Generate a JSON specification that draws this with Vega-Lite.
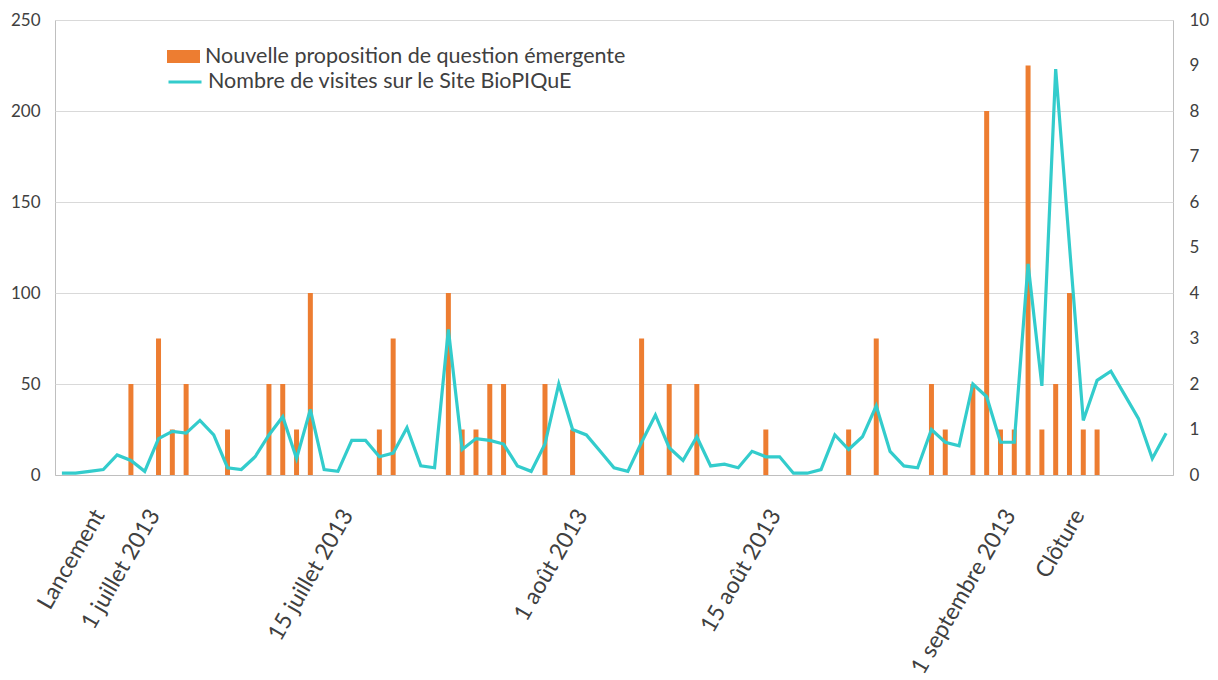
{
  "$schema": "https://vega.github.io/schema/vega-lite/v6.json",
  "autosize": {"type": "none"},
  "padding": {"left": 55, "top": 20, "right": 45, "bottom": 205},
  "width": 1118,
  "height": 455,
  "background": "white",
  "config": {
    "view": {"stroke": "#BFBFBF", "strokeWidth": 1},
    "font": "Lato",
    "axis": {"labelFont": "Lato", "labelColor": "#404040", "titleFont": "Lato"},
    "legend": {"labelFont": "Lato", "labelColor": "#404040"}
  },
  "data": {
    "values": [
      {"i": 0, "visites": 1, "questions": 0},
      {"i": 1, "visites": 1, "questions": 0},
      {"i": 2, "visites": 2, "questions": 0},
      {"i": 3, "visites": 3, "questions": 0},
      {"i": 4, "visites": 11, "questions": 0},
      {"i": 5, "visites": 8, "questions": 2},
      {"i": 6, "visites": 2, "questions": 0},
      {"i": 7, "visites": 20, "questions": 3},
      {"i": 8, "visites": 24, "questions": 1},
      {"i": 9, "visites": 23, "questions": 2},
      {"i": 10, "visites": 30, "questions": 0},
      {"i": 11, "visites": 22, "questions": 0},
      {"i": 12, "visites": 4, "questions": 1},
      {"i": 13, "visites": 3, "questions": 0},
      {"i": 14, "visites": 10, "questions": 0},
      {"i": 15, "visites": 22, "questions": 2},
      {"i": 16, "visites": 32, "questions": 2},
      {"i": 17, "visites": 9, "questions": 1},
      {"i": 18, "visites": 36, "questions": 4},
      {"i": 19, "visites": 3, "questions": 0},
      {"i": 20, "visites": 2, "questions": 0},
      {"i": 21, "visites": 19, "questions": 0},
      {"i": 22, "visites": 19, "questions": 0},
      {"i": 23, "visites": 10, "questions": 1},
      {"i": 24, "visites": 12, "questions": 3},
      {"i": 25, "visites": 26, "questions": 0},
      {"i": 26, "visites": 5, "questions": 0},
      {"i": 27, "visites": 4, "questions": 0},
      {"i": 28, "visites": 80, "questions": 4},
      {"i": 29, "visites": 14, "questions": 1},
      {"i": 30, "visites": 20, "questions": 1},
      {"i": 31, "visites": 19, "questions": 2},
      {"i": 32, "visites": 17, "questions": 2},
      {"i": 33, "visites": 5, "questions": 0},
      {"i": 34, "visites": 2, "questions": 0},
      {"i": 35, "visites": 17, "questions": 2},
      {"i": 36, "visites": 50, "questions": 0},
      {"i": 37, "visites": 25, "questions": 1},
      {"i": 38, "visites": 22, "questions": 0},
      {"i": 39, "visites": 13, "questions": 0},
      {"i": 40, "visites": 4, "questions": 0},
      {"i": 41, "visites": 2, "questions": 0},
      {"i": 42, "visites": 18, "questions": 3},
      {"i": 43, "visites": 33, "questions": 0},
      {"i": 44, "visites": 15, "questions": 2},
      {"i": 45, "visites": 8, "questions": 0},
      {"i": 46, "visites": 21, "questions": 2},
      {"i": 47, "visites": 5, "questions": 0},
      {"i": 48, "visites": 6, "questions": 0},
      {"i": 49, "visites": 4, "questions": 0},
      {"i": 50, "visites": 13, "questions": 0},
      {"i": 51, "visites": 10, "questions": 1},
      {"i": 52, "visites": 10, "questions": 0},
      {"i": 53, "visites": 1, "questions": 0},
      {"i": 54, "visites": 1, "questions": 0},
      {"i": 55, "visites": 3, "questions": 0},
      {"i": 56, "visites": 22, "questions": 0},
      {"i": 57, "visites": 14, "questions": 1},
      {"i": 58, "visites": 21, "questions": 0},
      {"i": 59, "visites": 38, "questions": 3},
      {"i": 60, "visites": 13, "questions": 0},
      {"i": 61, "visites": 5, "questions": 0},
      {"i": 62, "visites": 4, "questions": 0},
      {"i": 63, "visites": 25, "questions": 2},
      {"i": 64, "visites": 18, "questions": 1},
      {"i": 65, "visites": 16, "questions": 0},
      {"i": 66, "visites": 50, "questions": 2},
      {"i": 67, "visites": 43, "questions": 8},
      {"i": 68, "visites": 18, "questions": 1},
      {"i": 69, "visites": 18, "questions": 1},
      {"i": 70, "visites": 116, "questions": 9},
      {"i": 71, "visites": 49, "questions": 1},
      {"i": 72, "visites": 223, "questions": 2},
      {"i": 73, "visites": 126, "questions": 4},
      {"i": 74, "visites": 30, "questions": 1},
      {"i": 75, "visites": 52, "questions": 1},
      {"i": 76, "visites": 57, "questions": 0},
      {"i": 77, "visites": 44, "questions": 0},
      {"i": 78, "visites": 31, "questions": 0},
      {"i": 79, "visites": 9, "questions": 0},
      {"i": 80, "visites": 23, "questions": 0}
    ]
  },
  "encoding": {
    "x": {
      "field": "i",
      "type": "ordinal",
      "scale": {"paddingInner": 0, "paddingOuter": 0},
      "axis": {
        "title": null,
        "labelAngle": -60,
        "labelAlign": "right",
        "labelBaseline": "middle",
        "ticks": false,
        "tickSize": 0,
        "domain": true,
        "domainColor": "#BFBFBF",
        "grid": false,
        "labelFontSize": 23,
        "labelPadding": 36,
        "labelOffset": -4,
        "labelOverlap": false,
        "labelBound": false,
        "labelLimit": 400,
        "labelExpr": "datum.value == 3 ? 'Lancement' : datum.value == 7 ? '1 juillet 2013' : datum.value == 21 ? '15 juillet 2013' : datum.value == 38 ? '1 août 2013' : datum.value == 52 ? '15 août 2013' : datum.value == 69 ? '1 septembre 2013' : datum.value == 74 ? 'Clôture' : ''"
      }
    }
  },
  "layer": [
    {
      "mark": {"type": "bar", "size": 5},
      "encoding": {
        "y": {
          "field": "questions",
          "type": "quantitative",
          "scale": {"domain": [0, 10], "nice": false},
          "axis": {
            "orient": "right",
            "title": null,
            "values": [0, 1, 2, 3, 4, 5, 6, 7, 8, 9, 10],
            "grid": false,
            "ticks": false,
            "tickSize": 0,
            "domain": false,
            "labelFontSize": 17,
            "labelPadding": 16
          }
        },
        "color": {
          "datum": "Nouvelle proposition de question émergente",
          "scale": {"range": ["#ED7D31"]},
          "legend": {
            "title": null,
            "orient": "none",
            "legendX": 112,
            "legendY": 20,
            "padding": 0,
            "symbolType": "M-1,-0.4H1V0.4H-1Z",
            "symbolSize": 1089,
            "symbolStrokeWidth": 0,
            "labelFontSize": 21.5,
            "labelOffset": 5,
            "labelLimit": 600
          }
        }
      }
    },
    {
      "mark": {"type": "line", "strokeWidth": 3.2},
      "encoding": {
        "y": {
          "field": "visites",
          "type": "quantitative",
          "scale": {"domain": [0, 250], "nice": false},
          "axis": {
            "orient": "left",
            "title": null,
            "values": [0, 50, 100, 150, 200, 250],
            "grid": true,
            "gridColor": "#D9D9D9",
            "ticks": false,
            "tickSize": 0,
            "domain": false,
            "labelFontSize": 17,
            "labelPadding": 15
          }
        },
        "color": {
          "datum": "Nombre de visites sur le Site BioPIQuE",
          "scale": {"range": ["#33CCCC"]},
          "legend": {
            "title": null,
            "orient": "none",
            "legendX": 112,
            "legendY": 44,
            "padding": 0,
            "symbolType": "stroke",
            "symbolSize": 1089,
            "symbolStrokeWidth": 3,
            "labelFontSize": 21.5,
            "labelOffset": 5,
            "labelLimit": 600
          }
        }
      }
    }
  ],
  "resolve": {
    "scale": {"y": "independent", "color": "independent"},
    "legend": {"color": "independent"}
  }
}
